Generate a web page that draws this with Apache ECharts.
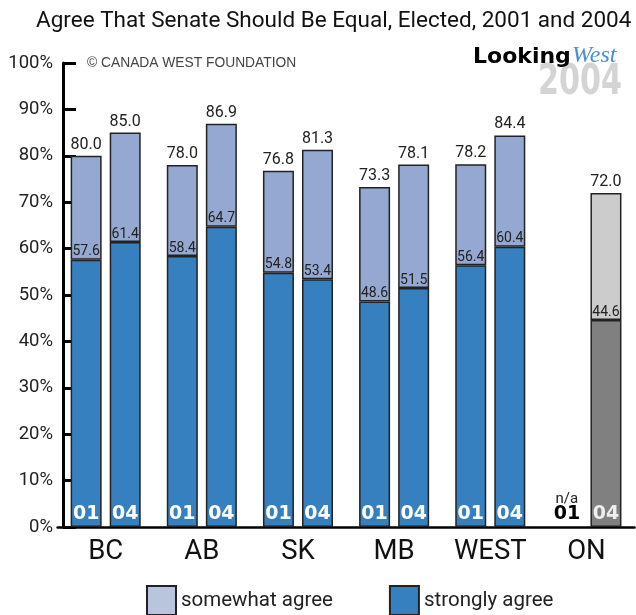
<!DOCTYPE html>
<html>
<head>
<meta charset="utf-8">
<script src="https://cdn.jsdelivr.net/npm/echarts@6/dist/echarts.min.js"></script>
<style>
  html, body { margin: 0; padding: 0; background: #fff; }
  #chart { width: 636px; height: 615px; }
</style>
</head>
<body>
<div id="chart"></div>
<script>
// 各省数据 (strongly agree + somewhat agree = total)
var categories = ['BC', 'AB', 'SK', 'MB', 'WEST', 'ON'];
var strong01 = [57.6, 58.4, 54.8, 48.6, 56.4, null];
var total01 = [80.0, 78.0, 76.8, 73.3, 78.2, null];
var strong04 = [61.4, 64.7, 53.4, 51.5, 60.4, 44.6];
var total04 = [85.0, 86.9, 81.3, 78.1, 84.4, 72.0];
var yearLabels = ['01', '04'];
var yTicks = [0, 10, 20, 30, 40, 50, 60, 70, 80, 90, 100];

var blueStrong = '#3680bf';
var blueSome = '#94a8d1';
var greyStrong = '#808080';
var greySome = '#cccccc';
var numFont = 'Roboto';

function buildStack(strong, total, year, stackId) {
    var strongData = [], markData = [], someData = [];
    for (var i = 0; i < categories.length; i++) {
        var isOn = categories[i] === 'ON';
        var na = strong[i] == null;
        strongData.push({
            value: na ? 0 : strong[i],
            itemStyle: na ? {borderWidth: 0, color: 'transparent'} : (isOn ? {color: greyStrong} : {}),
            label: na ? {color: '#000'} : (isOn ? {color: '#eeeeee'} : {})
        });
        markData.push({
            value: 0,
            label: na ? {formatter: 'n/a', distance: 20, fontSize: 15} : {}
        });
        someData.push(na ? null : {
            value: +(total[i] - strong[i]).toFixed(1),
            itemStyle: isOn ? {color: greySome} : {}
        });
    }
    return [
        {
            name: 'strongly agree',
            type: 'bar',
            stack: stackId,
            barWidth: 31,
            barGap: '26%',
            z: 3,
            itemStyle: {color: blueStrong, borderColor: '#222', borderWidth: 1.5},
            label: {
                show: true,
                position: 'insideBottom',
                distance: 3,
                formatter: year,
                color: '#fff',
                fontFamily: 'DejaVu Sans',
                fontWeight: 'bold',
                fontSize: 19
            },
            data: strongData
        },
        {
            name: 'mark' + year,
            type: 'bar',
            stack: stackId,
            barWidth: 31,
            z: 10,
            silent: true,
            itemStyle: {color: 'transparent', borderWidth: 0},
            label: {
                show: true,
                position: 'top',
                distance: 1,
                color: '#222',
                fontFamily: numFont,
                fontSize: 14,
                formatter: function (p) {
                    return strong[p.dataIndex] == null ? 'n/a' : strong[p.dataIndex].toFixed(1);
                }
            },
            data: markData
        },
        {
            name: 'somewhat agree',
            type: 'bar',
            stack: stackId,
            barWidth: 31,
            z: 2,
            itemStyle: {color: blueSome, borderColor: '#222', borderWidth: 1.5},
            label: {
                show: true,
                position: 'top',
                distance: 3,
                color: '#222',
                fontFamily: numFont,
                fontSize: 16,
                formatter: function (p) {
                    return total[p.dataIndex].toFixed(1);
                }
            },
            data: someData
        }
    ];
}

var series = [].concat(
    buildStack(strong01, total01, yearLabels[0], 'y01'),
    buildStack(strong04, total04, yearLabels[1], 'y04')
);

var option = {
    animation: false,
    backgroundColor: '#fff',
    title: {
        text: 'Agree That Senate Should Be Equal, Elected, 2001 and 2004',
        left: 31,
        top: 5,
        textStyle: {fontFamily: 'Roboto', fontWeight: 'normal', fontSize: 22.5, color: '#111'}
    },
    legend: {
        data: [
            {name: 'somewhat agree', itemStyle: {color: '#b9c4dd'}},
            {name: 'strongly agree'}
        ],
        left: 141,
        top: 580,
        icon: 'rect',
        itemWidth: 29,
        itemHeight: 29,
        itemGap: 56,
        textStyle: {fontFamily: 'Roboto', fontSize: 20.5, color: '#222'}
    },
    grid: {
        left: 57.6,
        right: 1.5,
        top: 63,
        bottom: 88
    },
    xAxis: {
        type: 'category',
        data: categories,
        axisLine: {lineStyle: {color: '#000', width: 2.5}},
        axisTick: {show: false},
        axisLabel: {
            margin: 11,
            fontFamily: 'Roboto',
            fontSize: 27.5,
            color: '#111'
        }
    },
    yAxis: {
        type: 'value',
        min: yTicks[0],
        max: yTicks[yTicks.length - 1],
        interval: yTicks[1] - yTicks[0],
        offset: -5.4,
        splitLine: {show: false},
        axisLine: {show: true, lineStyle: {color: '#000', width: 3}},
        axisTick: {show: true, inside: true, length: 13, lineStyle: {color: '#000', width: 3}},
        axisLabel: {
            margin: 10,
            fontFamily: 'Roboto',
            fontSize: 18.5,
            color: '#222',
            formatter: '{value}%'
        }
    },
    graphic: [
        {
            type: 'text',
            left: 87,
            top: 56,
            style: {text: '\u00a9 CANADA WEST FOUNDATION', fill: '#444', font: '13.8px "Liberation Sans"'}
        },
        {
            type: 'text',
            x: 538,
            y: 62,
            scaleX: 0.8,
            style: {text: '2004', fill: '#d4d4d4', font: 'bold 42px "DejaVu Sans Condensed"'}
        },
        {
            type: 'text',
            left: 473,
            top: 46,
            style: {text: 'Looking', fill: '#000', font: 'bold 22px "DejaVu Sans"'}
        },
        {
            type: 'text',
            left: 572,
            top: 44,
            style: {text: 'West', fill: '#4a8fd6', font: 'italic 24px "Liberation Serif"'}
        }
    ],
    series: series
};

var chart = echarts.init(document.getElementById('chart'));
chart.setOption(option);
</script>
</body>
</html>
